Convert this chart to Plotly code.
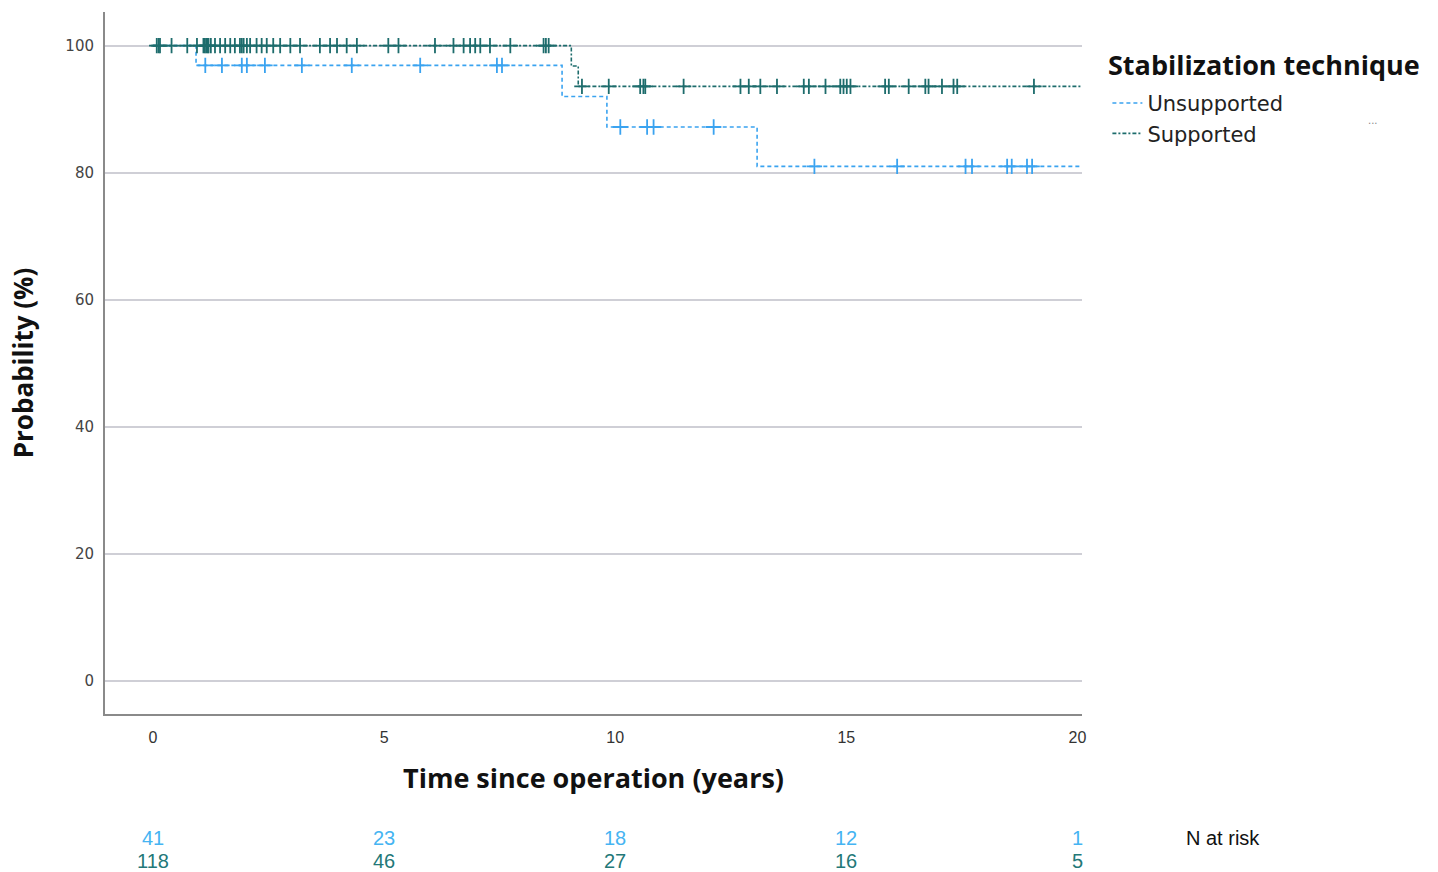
import plotly.graph_objects as go
import numpy as np

# ---------------- data ----------------
groups = ["Unsupported", "Supported"]

# Kaplan-Meier step points (time in years, survival in %)
unsup_times = [0, 0.93, 8.85, 9.82, 13.07, 20.1]
unsup_surv = [100, 96.9, 92.0, 87.2, 81.0, 81.0]
sup_times = [0, 9.05, 9.2, 20.1]
sup_surv = [100, 96.8, 93.6, 93.6]

# censored observations (years)
unsup_censor = [1.13, 1.49, 1.92, 2.03, 2.42, 3.22, 4.30, 5.78, 7.44, 7.55,
                10.11, 10.69, 10.83, 12.13,
                14.31, 16.10, 17.58, 17.72, 18.48, 18.58, 18.91, 19.02]
sup_censor = [0.08, 0.12, 0.15, 0.40, 0.74, 0.95, 1.09, 1.12, 1.15, 1.18, 1.20, 1.25,
              1.34, 1.45, 1.56, 1.67, 1.77, 1.88, 1.92, 1.96, 2.03, 2.10, 2.24, 2.35,
              2.46, 2.60, 2.75, 2.97, 3.18, 3.61, 3.83, 3.98, 4.19, 4.41, 5.09, 5.31,
              6.10, 6.50, 6.72, 6.86, 6.97, 7.08, 7.29, 7.73, 8.45, 8.50, 8.56,
              9.28, 9.86, 10.54, 10.61, 10.65, 11.48, 12.71, 12.89, 13.14, 13.50,
              14.08, 14.19, 14.55, 14.87, 14.94, 15.01, 15.09, 15.84, 15.92, 16.35,
              16.71, 16.78, 17.07, 17.32, 17.40, 19.06]

# numbers at risk
risk_times = [0, 5, 10, 15, 20]
unsup_risk = [41, 23, 18, 12, 1]
sup_risk = [118, 46, 27, 16, 5]

x_ticks = [0, 5, 10, 15, 20]
y_ticks = [0, 20, 40, 60, 80, 100]

# ---------------- styling ----------------
c_unsup = "#3aa3f0"
c_sup = "#1d6c6c"
c_unsup_txt = "#45b4f2"
c_sup_txt = "#237878"


def step_value(times, surv, t):
    idx = np.searchsorted(np.array(times), t, side="right") - 1
    return surv[max(idx, 0)]


fig = go.Figure()

series = [
    ("Unsupported", unsup_times, unsup_surv, unsup_censor, c_unsup, "4px,3px"),
    ("Supported", sup_times, sup_surv, sup_censor, c_sup, "4px,2px,2px,2px"),
]

for name, t, s, cens, col, dash in series:
    fig.add_trace(go.Scatter(
        x=t, y=s, mode="lines", name=name, line_shape="hv",
        line=dict(color=col, width=1.6, dash=dash), showlegend=True,
    ))

for name, t, s, cens, col, dash in series:
    fig.add_trace(go.Scatter(
        x=cens, y=[step_value(t, s, c) for c in cens], mode="markers",
        marker=dict(symbol="cross-thin", size=11, line=dict(color=col, width=1.8)),
        showlegend=False, hoverinfo="skip",
    ))

# at-risk table
risk_font = "Liberation Sans, Arial"
for times, vals, col, yp in [(risk_times, unsup_risk, c_unsup_txt, -0.176),
                             (risk_times, sup_risk, c_sup_txt, -0.2095)]:
    for tx, v in zip(times, vals):
        fig.add_annotation(x=tx, y=yp, xref="x", yref="paper", text=str(v),
                           showarrow=False, xanchor="center", yanchor="middle",
                           font=dict(family=risk_font, size=20, color=col))

fig.add_annotation(x=1.1443, y=-0.176, xref="paper", yref="paper", text="N at risk",
                   showarrow=False, xanchor="center", yanchor="middle",
                   font=dict(family=risk_font, size=20, color="#111111"))

# legend title
fig.add_annotation(x=1.025, y=0.925, xref="paper", yref="paper",
                   text="<b>Stabilization technique</b>",
                   showarrow=False, xanchor="left", yanchor="middle",
                   font=dict(family="Open Sans", size=27, color="#111111"))

fig.add_annotation(x=1.298, y=0.845, xref="paper", yref="paper", text="...",
                   showarrow=False, xanchor="center", yanchor="middle",
                   font=dict(family="DejaVu Sans", size=10, color="#888888"))

fig.update_layout(
    width=1438, height=872,
    margin=dict(l=105, r=356, t=12, b=158, autoexpand=False),
    paper_bgcolor="white", plot_bgcolor="white",
    font=dict(family="DejaVu Sans", color="#333333"),
    legend=dict(
        x=1.026, y=0.899, xanchor="left", yanchor="top",
        font=dict(family="DejaVu Sans", size=21, color="#222222"),
        itemwidth=30, tracegroupgap=0, bgcolor="rgba(0,0,0,0)",
    ),
    xaxis=dict(
        range=[-1.04, 20.1], tickvals=x_ticks, ticktext=[str(v) for v in x_ticks],
        showgrid=False, zeroline=False, showline=True, linecolor="#8a8a8a", linewidth=2,
        ticks="", ticklabelstandoff=8,
        tickfont=dict(family="Liberation Sans, Arial", size=16, color="#333333"),
        title=dict(text="<b>Time since operation (years)</b>",
                   font=dict(family="Open Sans", size=27, color="#111111"), standoff=24),
        automargin=False,
    ),
    yaxis=dict(
        range=[-5.2, 105.3], tickvals=y_ticks, ticktext=[str(v) for v in y_ticks],
        showgrid=True, gridcolor="#cfcfd6", gridwidth=2, zeroline=False,
        showline=True, linecolor="#8a8a8a", linewidth=2, ticks="", ticklabelstandoff=6,
        tickfont=dict(family="DejaVu Sans", size=15, color="#444444"),
        title=dict(text="<b>Probability (%)</b>",
                   font=dict(family="Open Sans", size=26, color="#111111"), standoff=24),
        automargin=False,
    ),
)

fig.write_html("out.html")
